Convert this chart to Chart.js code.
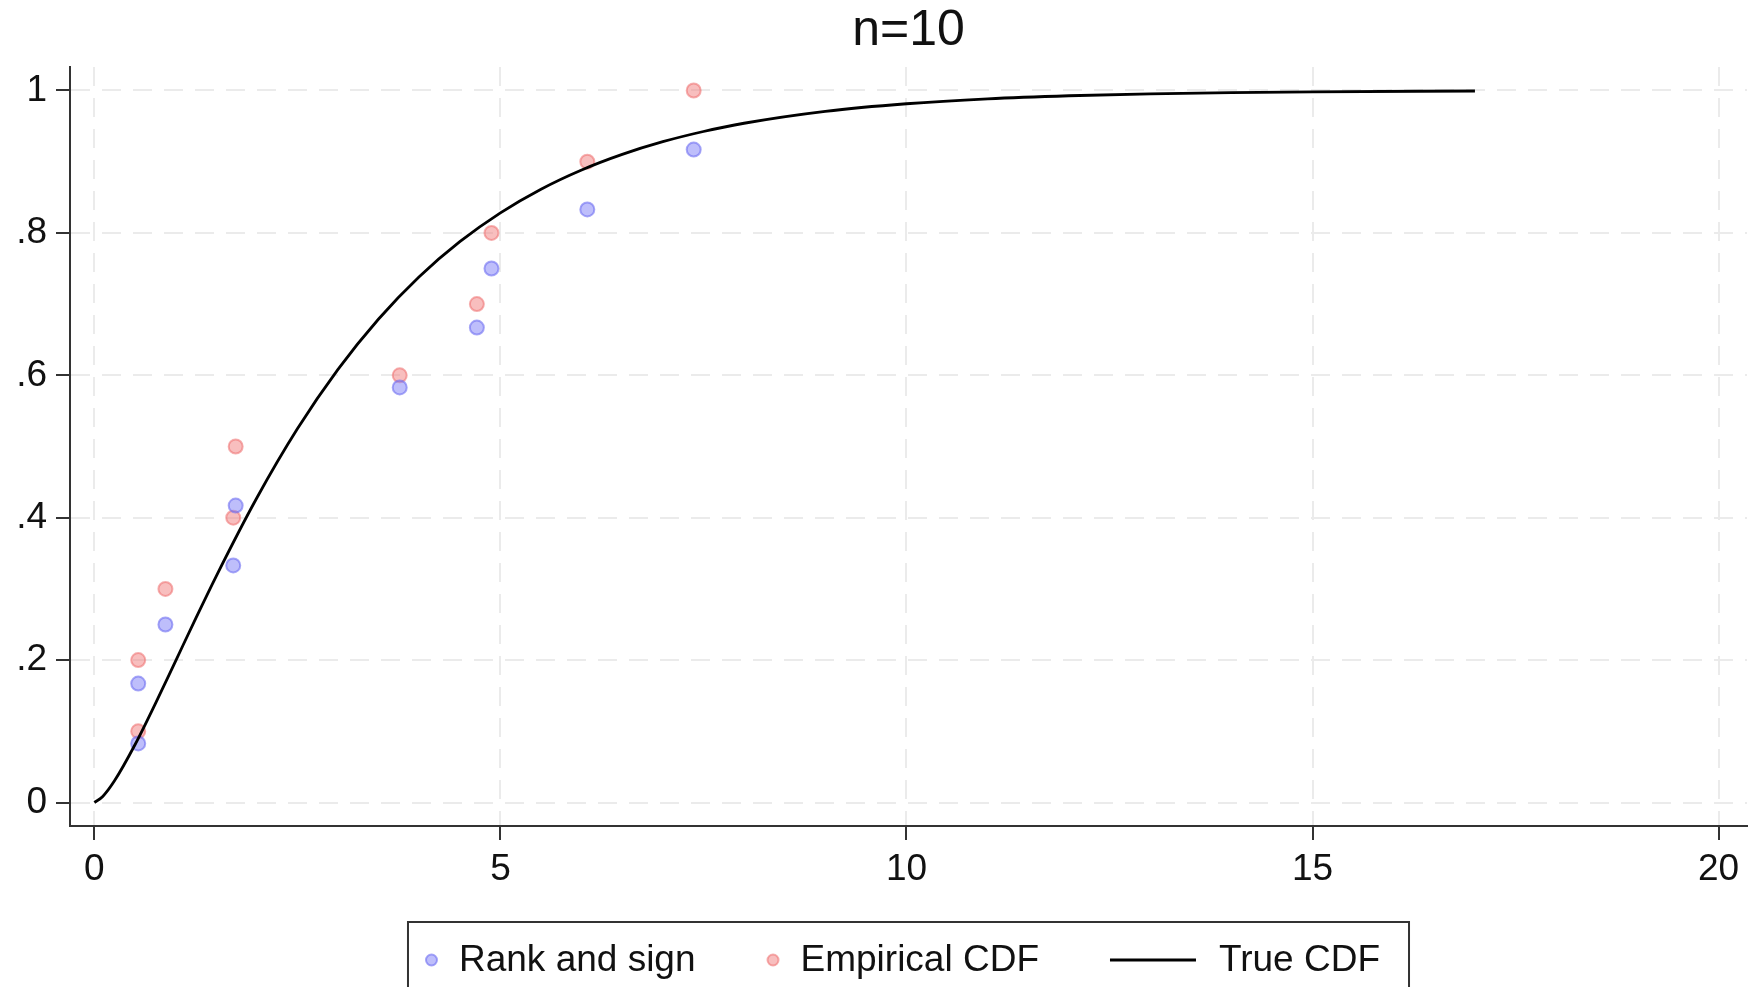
<!DOCTYPE html>
<html><head><meta charset="utf-8">
<script src="https://cdn.jsdelivr.net/npm/chart.js@4.4.1/dist/chart.umd.min.js"></script>
<style>html,body{margin:0;padding:0;background:#fff;overflow:hidden}#wrap{width:1756px;height:987px;position:relative}</style>
</head><body><div id="wrap"><canvas id="c"></canvas></div>
<script>
const titleText = 'n=10';
const seriesNames = ['Rank and sign', 'Empirical CDF', 'True CDF'];
const sampleX = [0.54, 0.54, 0.875, 1.71, 1.74, 3.76, 4.71, 4.89, 6.07, 7.38];
const rankSignY = [0.083, 0.167, 0.25, 0.333, 0.417, 0.583, 0.667, 0.75, 0.833, 0.917];
const empiricalY = [0.1, 0.2, 0.3, 0.4, 0.5, 0.6, 0.7, 0.8, 0.9, 1.0];
const cdfX = [0, 0.1, 0.25, 0.5, 0.75, 1, 1.25, 1.5, 2, 2.5, 3, 3.5, 4, 4.5, 5, 5.5, 6, 6.5, 7, 7.5, 8, 9, 10, 11, 12, 13, 14, 15, 17];
const cdfY = [0, 0.0082, 0.0309, 0.0811, 0.1386, 0.1987, 0.2589, 0.3177, 0.4276, 0.5248, 0.6083, 0.6791, 0.7385, 0.7877, 0.8282, 0.8614, 0.8884, 0.9103, 0.9281, 0.9424, 0.9540, 0.9707, 0.9814, 0.9883, 0.9926, 0.9953, 0.9971, 0.9982, 0.9993];
const xTicks = [0, 5, 10, 15, 20];
const xTickLabels = ['0', '5', '10', '15', '20'];
const yTicks = [0, 0.2, 0.4, 0.6, 0.8, 1];
const yTickLabels = ['0', '.2', '.4', '.6', '.8', '1'];

const FONT = '"Liberation Sans", Arial, sans-serif';
const pts = (xs, ys) => xs.map((x, i) => ({x: x, y: ys[i]}));

const gridOpts = {
  color: '#ebebeb', lineWidth: 2,
  tickLength: 14, tickColor: '#333', tickWidth: 2, tickBorderDash: []
};
const borderOpts = {color: '#333', width: 2, dash: [19, 12]};

const legendPlugin = {
  id: 'boxLegend',
  afterDraw(chart) {
    const ctx = chart.ctx;
    const ds = chart.data.datasets;
    const fs = 37;
    ctx.save();
    ctx.font = fs + 'px ' + FONT;
    const w = seriesNames.map(n => ctx.measureText(n).width);
    const padL = 17, dotD = 13, gapDotText = 21, gapItems = 71, lineW = 86, gapLineText = 23, padR = 29;
    const total = padL + dotD + gapDotText + w[0] + gapItems + dotD + gapDotText + w[1] + gapItems + lineW + gapLineText + w[2] + padR;
    const cx = (chart.chartArea.left + chart.chartArea.right) / 2;
    const left = cx - total / 2;
    const top = 922, cy = 960;
    ctx.strokeStyle = '#333';
    ctx.lineWidth = 2;
    ctx.strokeRect(left, top, total, 100);
    let x = left + padL;
    ctx.textBaseline = 'middle';
    ctx.textAlign = 'left';
    for (let i = 0; i < 2; i++) {
      const d = ds[i];
      ctx.beginPath();
      ctx.arc(x + dotD / 2, cy, dotD / 2 - 1, 0, Math.PI * 2);
      ctx.fillStyle = d.backgroundColor;
      ctx.fill();
      ctx.strokeStyle = d.borderColor;
      ctx.lineWidth = 2;
      ctx.stroke();
      x += dotD + gapDotText;
      ctx.fillStyle = '#111';
      ctx.fillText(seriesNames[i], x, cy + 1);
      x += w[i] + gapItems;
    }
    ctx.beginPath();
    ctx.moveTo(x, cy);
    ctx.lineTo(x + lineW, cy);
    ctx.strokeStyle = ds[2].borderColor;
    ctx.lineWidth = ds[2].borderWidth;
    ctx.stroke();
    x += lineW + gapLineText;
    ctx.fillStyle = '#111';
    ctx.fillText(seriesNames[2], x, cy + 1);
    ctx.restore();
  }
};

new Chart(document.getElementById('c'), {
  type: 'scatter',
  data: {
    datasets: [
      {
        label: seriesNames[0], data: pts(sampleX, rankSignY), order: 1,
        backgroundColor: 'rgba(125,125,248,0.5)', borderColor: 'rgba(110,110,242,0.6)',
        borderWidth: 2, pointRadius: 7, pointHoverRadius: 7
      },
      {
        label: seriesNames[1], data: pts(sampleX, empiricalY), order: 2,
        backgroundColor: 'rgba(242,125,125,0.5)', borderColor: 'rgba(238,110,110,0.55)',
        borderWidth: 2, pointRadius: 7, pointHoverRadius: 7
      },
      {
        label: seriesNames[2], data: pts(cdfX, cdfY), order: 0,
        showLine: true, borderColor: '#000', backgroundColor: '#000', borderWidth: 2.8,
        pointRadius: 0, cubicInterpolationMode: 'monotone', fill: false
      }
    ]
  },
  options: {
    responsive: true, maintainAspectRatio: false, animation: false,
    layout: {padding: {top: 0, left: 0, right: 7, bottom: 89}},
    plugins: {
      legend: {display: false},
      tooltip: {enabled: false},
      title: {
        display: true, text: titleText, fullSize: false, color: '#111',
        font: {family: FONT, size: 50, weight: 'normal', lineHeight: 1.2},
        padding: {top: 1, bottom: 6}
      }
    },
    scales: {
      x: {
        type: 'linear', min: -0.3, max: 20.35,
        afterBuildTicks: s => { s.ticks = xTicks.map(v => ({value: v})); },
        afterFit: s => { s.height = 72; },
        ticks: {
          font: {family: FONT, size: 37}, color: '#111', padding: 8, maxRotation: 0, autoSkip: false,
          callback: v => xTickLabels[xTicks.indexOf(v)]
        },
        grid: gridOpts,
        border: borderOpts
      },
      y: {
        type: 'linear', min: -0.033, max: 1.033,
        afterBuildTicks: s => { s.ticks = yTicks.map(v => ({value: v})); },
        afterFit: s => { s.width = 70; },
        ticks: {
          font: {family: FONT, size: 37}, color: '#111', padding: 9, autoSkip: false,
          callback: v => yTickLabels[yTicks.indexOf(v)]
        },
        grid: gridOpts,
        border: borderOpts
      }
    }
  },
  plugins: [legendPlugin]
});
</script>
</body></html>
